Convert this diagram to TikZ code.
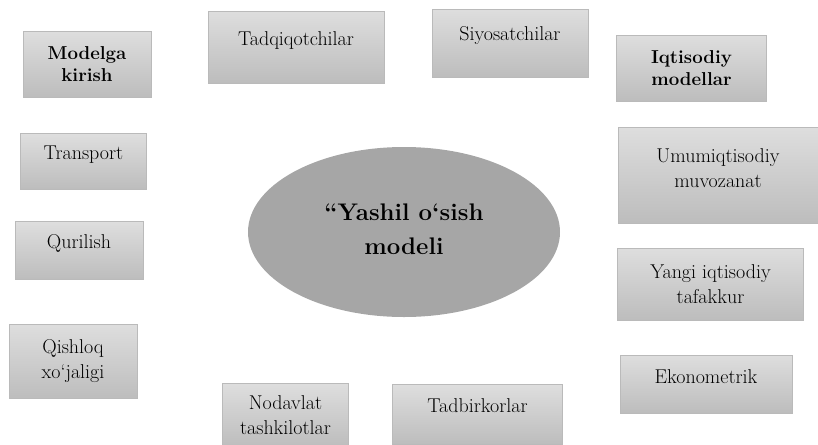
\documentclass[tikz,border=0pt]{standalone}
\usetikzlibrary{shapes.geometric}

\begin{document}
\begin{tikzpicture}[
            x = 0.75pt, y = -0.75pt, % one unit = one pixel, y downwards
            box/.style = {draw = black!27, line width = 0.75pt,
                top color = black!13, bottom color = black!26,
                align = center, inner sep = 0pt,
                font = \fontsize{15}{18.75}\selectfont},
            boldbox/.style = {box, font = \bfseries\fontsize{14}{16.5}\selectfont},
            lift/.style = {text depth = #1} % pushes the text up in its box
        ]

        \tikzstyle{hub}=[
            ellipse,
            fill = black!35,
            inner sep = 0pt,
            minimum width = 234pt,
            minimum height = 127.5pt,
            align = center,
            lift = 4.5pt,
            font = \bfseries\fontsize{18}{25.5}\selectfont
        ]

        \useasboundingbox (0,0) rectangle (818,444);

        \node[hub] (m) at (404,232) {“Yashil o‘sish\\modeli};

        % left column
        \node[boldbox, minimum width=96pt, minimum height=49.5pt] (mk) at (87,64) {Modelga\\kirish};
        \node[box, lift=13pt, minimum width=95pt, minimum height=41.5pt] (tr) at (83.5,161.5) {Transport};
        \node[box, lift=13pt, minimum width=96pt, minimum height=43pt] (qu) at (79,250.5) {Qurilish};
        \node[box, minimum width=96pt, minimum height=56pt] (qx) at (73,361.5) {Qishloq\\xo‘jaligi};

        % top row
        \node[box, lift=13pt, minimum width=132pt, minimum height=54pt] (td) at (296,47) {Tadqiqotchilar};
        \node[box, lift=14.5pt, minimum width=117pt, minimum height=51pt] (si) at (510,43) {Siyosatchilar};

        % right column
        \node[boldbox, minimum width=112pt, minimum height=49.5pt] (im) at (691.5,68) {Iqtisodiy\\modellar};
        \node[box, lift=10pt, minimum width=150pt, minimum height=72pt] (um) at (718,175) {Umumiqtisodiy\\muvozanat};
        \node[box, minimum width=140pt, minimum height=54pt] (yt) at (710.5,284) {Yangi iqtisodiy\\tafakkur};
        \node[box, lift=11.5pt, minimum width=129pt, minimum height=43.5pt] (ek) at (706,384) {Ekonometrik};

        % bottom row
        \node[box, minimum width=95pt, minimum height=48pt] (nt) at (285.5,415) {Nodavlat\\tashkilotlar};
        \node[box, lift=13.5pt, minimum width=127pt, minimum height=44.5pt] (tb) at (477.5,414.5) {Tadbirkorlar};
    \end{tikzpicture}
\end{document}
